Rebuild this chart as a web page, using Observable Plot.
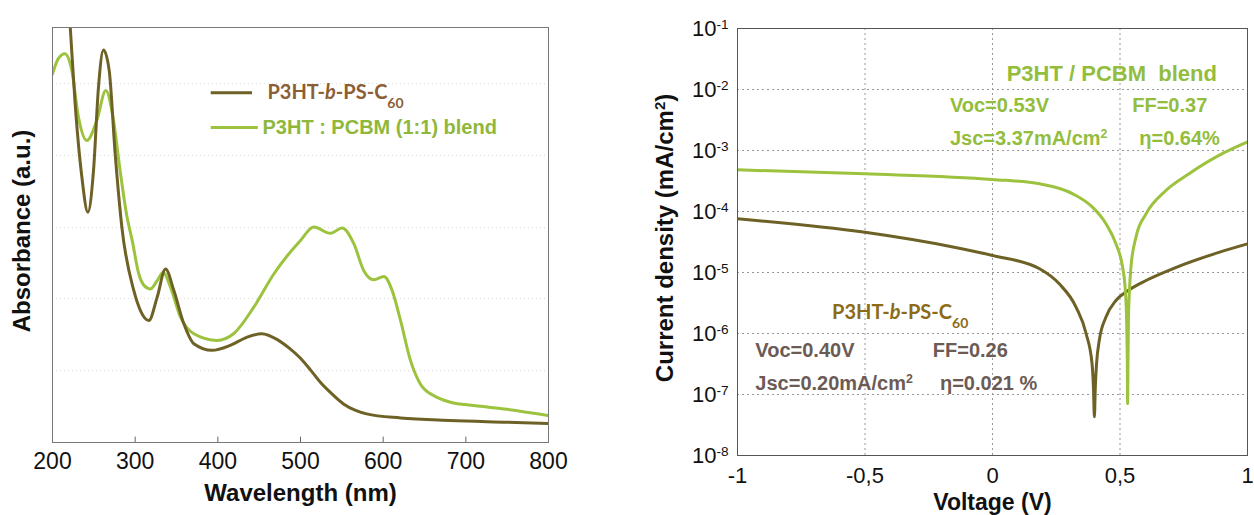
<!DOCTYPE html>
<html><head><meta charset="utf-8">
<script src="https://cdn.jsdelivr.net/npm/d3@7"></script>
<script src="https://cdn.jsdelivr.net/npm/@observablehq/plot@0.6"></script>
<style>
html,body{margin:0;padding:0;background:#fff;}
#wrap{position:relative;width:1254px;height:515px;overflow:hidden;background:#fff;}
#wrap svg{position:absolute;top:0;}
#wrap text{white-space:pre;}
</style></head><body><div id="wrap"></div>
<script>
// ---------- Left chart: UV-vis absorbance ----------
const wavelengthBlock = [218, 221.5, 227.4, 235.5, 242.8, 249.6, 255.6, 261.7, 268.6, 275.8, 283.9, 298.4, 306.4, 316.5, 326.6, 336.7, 346.8, 358.9, 371, 393, 415, 435.5, 453, 472, 486, 500, 512, 524, 538, 552, 566, 580, 621, 681, 750, 800];
const absorbanceBlock = [1.10, 1.0, 0.816, 0.64, 0.555, 0.655, 0.856, 0.946, 0.896, 0.696, 0.519, 0.366, 0.318, 0.294, 0.35, 0.418, 0.366, 0.286, 0.238, 0.222, 0.234, 0.254, 0.262, 0.248, 0.228, 0.203, 0.175, 0.145, 0.117, 0.093, 0.078, 0.069, 0.059, 0.053, 0.049, 0.046];
const wavelengthBlend = [200, 207, 215, 223.4, 231.4, 241.5, 253.6, 264.5, 273.8, 281.8, 290, 296.4, 304.4, 311, 318.5, 326.6, 333.9, 342.7, 354.8, 371, 399, 419, 443.5, 467.7, 500, 516, 536.3, 550.4, 564.5, 576.6, 588.7, 600.8, 610.9, 621, 633, 645, 661, 681.4, 710, 750, 800];
const absorbanceBlend = [0.888, 0.925, 0.937, 0.896, 0.784, 0.728, 0.776, 0.848, 0.776, 0.655, 0.545, 0.487, 0.406, 0.378, 0.37, 0.39, 0.41, 0.374, 0.302, 0.262, 0.246, 0.262, 0.326, 0.406, 0.487, 0.519, 0.504, 0.517, 0.479, 0.414, 0.392, 0.4, 0.366, 0.294, 0.198, 0.141, 0.113, 0.097, 0.089, 0.08, 0.065];
const wavelengthTicks = [200, 300, 400, 500, 600, 700, 800];
const absGrid = [0.173, 0.347, 0.518, 0.692, 0.865];
const legendLabels = ["P3HT-*b*-PS-C_{60}", "P3HT : PCBM (1:1) blend"];

// ---------- Right chart: J-V (log) ----------
const voltageBlend = [-1, -0.5, 0, 0.1845, 0.315, 0.393, 0.445, 0.484, 0.510, 0.520, 0.526, 0.529, 0.530, 0.531, 0.533, 0.537, 0.543, 0.5626, 0.6017, 0.68, 0.771, 0.888, 1.0];
const currentBlend = [4.82e-4, 4.15e-4, 3.35e-4, 2.84e-4, 1.95e-4, 1.17e-4, 6.3e-5, 2.95e-5, 1.23e-5, 5.75e-6, 1.58e-6, 2.5e-7, 7.1e-8, 2.5e-7, 1.58e-6, 5.0e-6, 1.23e-5, 3.8e-5, 9.1e-5, 2.21e-4, 4.17e-4, 8.3e-4, 1.38e-3];
const voltageBlock = [-1, -0.5, -0.15, 0, 0.1845, 0.2627, 0.328, 0.367, 0.3905, 0.396, 0.3996, 0.403, 0.408, 0.419, 0.445, 0.484, 0.530, 0.602, 0.706, 0.888, 1.0];
const currentBlock = [7.6e-5, 4.57e-5, 2.6e-5, 1.9e-5, 1.15e-5, 6.46e-6, 2.69e-6, 1.0e-6, 3.16e-7, 1.26e-7, 4.3e-8, 1.26e-7, 3.16e-7, 7.8e-7, 1.86e-6, 3.47e-6, 5.0e-6, 7.4e-6, 1.15e-5, 2.14e-5, 2.95e-5];
const voltageTicks = [-1, -0.5, 0, 0.5, 1];
const voltageGrid = [-0.5, 0, 0.5];
const decadeTicks = [1e-8, 1e-7, 1e-6, 1e-5, 1e-4, 1e-3, 1e-2, 1e-1];
const decadeGrid = [1e-7, 1e-6, 1e-5, 1e-4, 1e-3, 1e-2];
const blendTitle = "P3HT / PCBM  blend";
const blendParams = ["Voc=0.53V", "FF=0.37", "Jsc=3.37mA/cm^{2}", "η=0.64%"];
const blockTitle = "P3HT-*b*-PS-C_{60}";
const blockParams = ["Voc=0.40V", "FF=0.26", "Jsc=0.20mA/cm^{2}", "η=0.021 %"];

const FONT = "'Liberation Sans', Arial, sans-serif";
const CAL = "Lato, 'Liberation Sans', sans-serif";
const brown = "#6e6126";
const green = "#9cc23e";

const blockAbs = wavelengthBlock.map((w, i) => ({w, a: absorbanceBlock[i]}));
const blendAbs = wavelengthBlend.map((w, i) => ({w, a: absorbanceBlend[i]}));
const blockJV = voltageBlock.map((v, i) => ({v, j: currentBlock[i]}));
const blendJV = voltageBlend.map((v, i) => ({v, j: currentBlend[i]}));
const id = d => d;

function rich(svg) {
  const NS = "http://www.w3.org/2000/svg";
  svg.querySelectorAll("text").forEach(t => {
    const s = t.textContent;
    if (!/[\^_]\{|\*/.test(s)) return;
    while (t.firstChild) t.removeChild(t.firstChild);
    const parts = s.split(/(\^\{[^}]*\}|_\{[^}]*\}|\*[^*]*\*)/).filter(p => p !== "");
    for (const p of parts) {
      const ts = document.createElementNS(NS, "tspan");
      if (p.startsWith("^{")) { ts.textContent = p.slice(2, -1); ts.setAttribute("baseline-shift", "super"); ts.setAttribute("font-size", "62%"); }
      else if (p.startsWith("_{")) { ts.textContent = p.slice(2, -1); ts.setAttribute("baseline-shift", "sub"); ts.setAttribute("font-size", "70%"); }
      else if (p.startsWith("*")) { ts.textContent = p.slice(1, -1); ts.setAttribute("font-style", "italic"); }
      else ts.textContent = p;
      t.appendChild(ts);
    }
  });
  return svg;
}

const left = Plot.plot({
  width: 600, height: 515,
  marginLeft: 52, marginRight: 52, marginTop: 27, marginBottom: 73,
  style: {fontFamily: FONT, fontSize: "23px", color: "#111", background: "transparent"},
  x: {domain: [200, 800], ticks: wavelengthTicks, tickSize: 0, tickPadding: 10, label: null},
  y: {domain: [0, 1], axis: null},
  marks: [
    Plot.ruleY(absGrid, {stroke: "#ccc", strokeDasharray: "1,3", strokeOpacity: 0.7}),
    Plot.ruleX(wavelengthTicks, {y1: 0, y2: 0.013, stroke: "#666"}),
    Plot.line(blendAbs, {x: "w", y: "a", stroke: green, strokeWidth: 3, curve: "monotone-x", clip: true}),
    Plot.line(blockAbs, {x: "w", y: "a", stroke: brown, strokeWidth: 3, curve: "monotone-x", clip: true}),
    Plot.frame({stroke: "#777"}),
    Plot.ruleY([0.843], {x1: 392, x2: 442, stroke: brown, strokeWidth: 3}),
    Plot.ruleY([0.759], {x1: 392, x2: 449, stroke: green, strokeWidth: 3}),
    Plot.text([legendLabels[0]], {x: 460, y: 0.843, text: id, textAnchor: "start", lineAnchor: "middle", fontFamily: CAL, fontSize: 20, fontWeight: "bold", fill: "#8b5e34"}),
    Plot.text([legendLabels[1]], {x: 454, y: 0.759, text: id, textAnchor: "start", lineAnchor: "middle", fontSize: 20, fontWeight: "bold", fill: "#8fb83a"}),
    Plot.text(["Wavelength (nm)"], {frameAnchor: "bottom", dy: 51, text: id, textAnchor: "middle", lineAnchor: "middle", fontSize: 24, fontWeight: "bold", fill: "#111"}),
    Plot.text(["Absorbance (a.u.)"], {frameAnchor: "left", dx: -30, dy: -4, rotate: -90, text: id, textAnchor: "middle", lineAnchor: "middle", fontSize: 24, fontWeight: "bold", fill: "#111"})
  ]
});
left.style.left = "0px";

const right = Plot.plot({
  width: 654, height: 515,
  marginLeft: 137, marginRight: 7, marginTop: 28, marginBottom: 60,
  style: {fontFamily: FONT, fontSize: "22px", color: "#111", background: "transparent"},
  x: {domain: [-1, 1], ticks: voltageTicks, tickFormat: d => String(d).replace(".", ","), tickSize: 0, tickPadding: 12, label: null},
  y: {type: "log", domain: [1e-8, 1e-1], ticks: decadeTicks, tickFormat: d => "10^{" + Math.round(Math.log10(d)) + "}", tickSize: 0, tickPadding: 9, label: null},
  marks: [
    Plot.ruleY(decadeGrid, {stroke: "#999", strokeDasharray: "2,3"}),
    Plot.ruleX(voltageGrid, {stroke: "#999", strokeDasharray: "2,3"}),
    Plot.line(blockJV, {x: "v", y: "j", stroke: brown, strokeWidth: 3, curve: "monotone-x", clip: true}),
    Plot.line(blendJV, {x: "v", y: "j", stroke: green, strokeWidth: 3, curve: "monotone-x", clip: true}),
    Plot.frame({stroke: "#555"}),
    Plot.text([blendTitle], {x: 0.0555, y: 0.0183, text: id, textAnchor: "start", lineAnchor: "middle", fontSize: 22, fontWeight: "bold", fill: "#93bd3c"}),
    Plot.text([blendParams[0]], {x: -0.167, y: 5.47e-3, text: id, textAnchor: "start", lineAnchor: "middle", fontSize: 20, fontWeight: "bold", fill: "#93bd3c"}),
    Plot.text([blendParams[1]], {x: 0.548, y: 5.47e-3, text: id, textAnchor: "start", lineAnchor: "middle", fontSize: 20, fontWeight: "bold", fill: "#93bd3c"}),
    Plot.text([blendParams[2]], {x: -0.167, y: 1.57e-3, text: id, textAnchor: "start", lineAnchor: "middle", fontSize: 20, fontWeight: "bold", fill: "#93bd3c"}),
    Plot.text([blendParams[3]], {x: 0.5755, y: 1.57e-3, text: id, textAnchor: "start", lineAnchor: "middle", fontSize: 20, fontWeight: "bold", fill: "#93bd3c"}),
    Plot.text([blockTitle], {x: -0.629, y: 2.21e-6, text: id, textAnchor: "start", lineAnchor: "middle", fontFamily: CAL, fontSize: 20, fontWeight: "bold", fill: "#8d6b16"}),
    Plot.text([blockParams[0]], {x: -0.930, y: 5.26e-7, text: id, textAnchor: "start", lineAnchor: "middle", fontSize: 20, fontWeight: "bold", fill: "#6c5b55"}),
    Plot.text([blockParams[1]], {x: -0.234, y: 5.26e-7, text: id, textAnchor: "start", lineAnchor: "middle", fontSize: 20, fontWeight: "bold", fill: "#6c5b55"}),
    Plot.text([blockParams[2]], {x: -0.930, y: 1.51e-7, text: id, textAnchor: "start", lineAnchor: "middle", fontSize: 20, fontWeight: "bold", fill: "#6c5b55"}),
    Plot.text([blockParams[3]], {x: -0.206, y: 1.51e-7, text: id, textAnchor: "start", lineAnchor: "middle", fontSize: 20, fontWeight: "bold", fill: "#6c5b55"}),
    Plot.text(["Voltage (V)"], {frameAnchor: "bottom", dy: 47, text: id, textAnchor: "middle", lineAnchor: "middle", fontSize: 23, fontWeight: "bold", fill: "#111"}),
    Plot.text(["Current density (mA/cm^{2})"], {frameAnchor: "left", dx: -72, dy: -4, rotate: -90, text: id, textAnchor: "middle", lineAnchor: "middle", fontSize: 24, fontWeight: "bold", fill: "#111"})
  ]
});
right.style.left = "600px";

const wrap = document.getElementById("wrap");
wrap.appendChild(rich(left));
wrap.appendChild(rich(right));
</script></body></html>
